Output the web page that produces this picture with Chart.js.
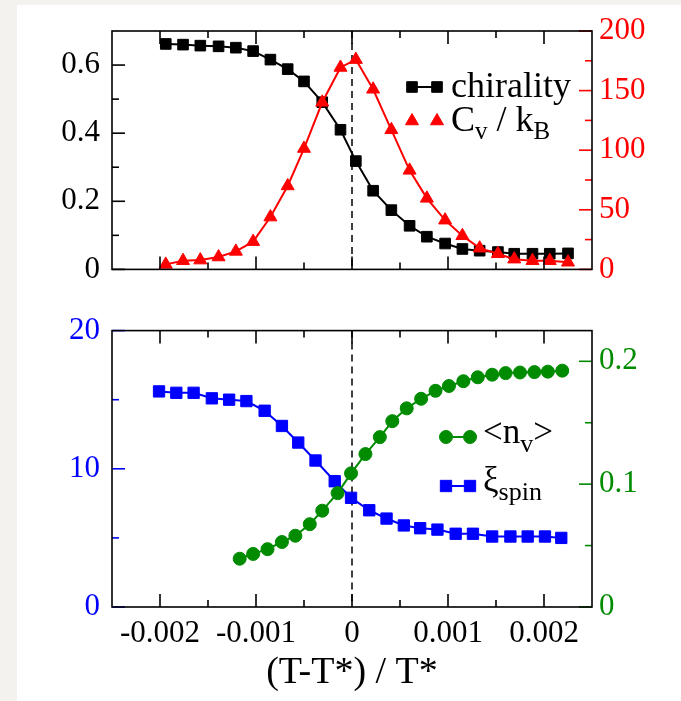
<!DOCTYPE html>
<html>
<head>
<meta charset="utf-8">
<script src="https://cdn.jsdelivr.net/npm/chart.js@4.4.1/dist/chart.umd.min.js"></script>
<style>
  html, body { margin: 0; padding: 0; background: #f3f2ee; }
  #page { position: relative; width: 681px; height: 701px; overflow: hidden; }
  #paper { position: absolute; left: 17px; top: 5px; right: 0; bottom: 0; background: #fff; }
  canvas { position: absolute; left: 0; }
  #top { top: 0; }
  #bottom { top: 300px; }
</style>
</head>
<body>
<div id="page">
  <div id="paper"></div>
  <canvas id="top" width="681" height="300"></canvas>
  <canvas id="bottom" width="681" height="401"></canvas>
</div>
<script>
// ---------------------------------------------
// data
// ---------------------------------------------
const topT = [-0.00194, -0.00176, -0.00158, -0.00139, -0.00121, -0.00103, -0.00085, -0.00067,
    -0.00050, -0.00031, -0.00012, 0.00004, 0.00022, 0.00041, 0.00060, 0.00078,
    0.00097, 0.00115, 0.00133, 0.00152, 0.00169, 0.00188, 0.00206, 0.00225];
const chirality = [0.662, 0.660, 0.657, 0.655, 0.651, 0.641, 0.616, 0.588, 0.552, 0.491, 0.410, 0.318,
    0.231, 0.174, 0.128, 0.096, 0.076, 0.060, 0.055, 0.051, 0.046, 0.046, 0.046, 0.047];
const cvOverKb = [4.2, 7.3, 7.8, 10.4, 15.1, 23.3, 43.9, 70, 101.4, 140.2, 169.4, 176,
    151.1, 117.1, 83.1, 59.6, 41.3, 28.2, 17.8, 13.1, 8.6, 7.3, 7.3, 6];

const xiT = [-0.00201, -0.00183, -0.00165, -0.00146, -0.00128, -0.00110, -0.00091, -0.00073,
    -0.00056, -0.00038, -0.00018, -0.00001, 0.00018, 0.00036, 0.00054, 0.00071,
    0.00089, 0.00108, 0.00126, 0.00146, 0.00165, 0.00183, 0.00201, 0.00218];
const xiSpin = [15.6, 15.5, 15.5, 15.1, 15.0, 14.9, 14.2, 13.1, 11.9, 10.6, 9.1, 7.9,
    7.0, 6.4, 5.9, 5.7, 5.6, 5.3, 5.3, 5.1, 5.1, 5.1, 5.1, 5.0];

const nvT = [-0.00117, -0.00103, -0.00088, -0.00073, -0.00059, -0.00044, -0.00031, -0.00015,
    -0.00001, 0.00014, 0.00029, 0.00042, 0.00057, 0.00072, 0.00087, 0.00101,
    0.00116, 0.00131, 0.00146, 0.00160, 0.00175, 0.00190, 0.00204, 0.00219];
const nv = [0.0393, 0.0432, 0.0471, 0.0529, 0.0580, 0.0674, 0.0784, 0.0927, 0.1088, 0.1245, 0.1383, 0.1513,
    0.1617, 0.1695, 0.1760, 0.1799, 0.1838, 0.1870, 0.1891, 0.1904, 0.1909, 0.1912, 0.1916, 0.1924];

// tick values
const xTicks = [-0.002, -0.001, 0, 0.001, 0.002];
const xMinor = [-0.0015, -0.0005, 0.0005, 0.0015];
const chiralityTicks = [0, 0.2, 0.4, 0.6];
const chiralityMinor = [0.1, 0.3, 0.5];
const cvTicks = [0, 50, 100, 150, 200];
const cvMinor = [25, 75, 125, 175];
const xiTicks = [0, 10, 20];
const xiMinor = [5, 15];
const nvTicks = [0, 0.1, 0.2];
const nvMinor = [0.05, 0.15];

const FONT = "'Liberation Serif', 'Times New Roman', serif";
const colors = { black: '#000000', red: '#ff0000', blue: '#0000ff', green: '#008b00' };

const pts = (xs, ys) => xs.map((x, i) => ({ x: x, y: ys[i] }));

// ---------------------------------------------
// frame, inward ticks, dashed T* line
// ---------------------------------------------
const frameTicks = {
    id: 'frameTicks',
    beforeDatasetsDraw(chart) {
        const { ctx, chartArea: a, scales } = chart;
        const px = scales.x.getPixelForValue(0);
        ctx.save();
        ctx.strokeStyle = '#000';
        ctx.lineWidth = 1.5;
        ctx.setLineDash([7, 5]);
        ctx.beginPath();
        ctx.moveTo(px, a.top);
        ctx.lineTo(px, a.bottom);
        ctx.stroke();
        ctx.restore();
    },
    afterDraw(chart, args, o) {
        const { ctx, chartArea: a, scales } = chart;
        const MAJ = 13, MIN = 7;
        ctx.save();
        ctx.lineWidth = 1.6;
        const line = (x1, y1, x2, y2) => {
            ctx.beginPath(); ctx.moveTo(x1, y1); ctx.lineTo(x2, y2); ctx.stroke();
        };
        // x ticks, bottom and top
        ctx.strokeStyle = '#000';
        [[xTicks, MAJ], [xMinor, MIN]].forEach(([vals, len]) => {
            vals.forEach(v => {
                const p = scales.x.getPixelForValue(v);
                line(p, a.bottom, p, a.bottom - len);
                line(p, a.top, p, a.top + len);
            });
        });
        // left axis
        ctx.strokeStyle = o.leftColor;
        [[o.leftMajor, MAJ], [o.leftMinor, MIN]].forEach(([vals, len]) => {
            vals.forEach(v => {
                const p = scales.y.getPixelForValue(v);
                line(a.left, p, a.left + len, p);
            });
        });
        // right axis
        ctx.strokeStyle = o.rightColor;
        [[o.rightMajor, MAJ], [o.rightMinor, MIN]].forEach(([vals, len]) => {
            vals.forEach(v => {
                const p = scales.yR.getPixelForValue(v);
                line(a.right, p, a.right - len, p);
            });
        });
        // frame
        ctx.strokeStyle = '#000';
        ctx.strokeRect(a.left, a.top, a.right - a.left, a.bottom - a.top);
        ctx.restore();
    }
};

// ---------------------------------------------
// legend with subscripts
// ---------------------------------------------
function drawMarker(ctx, ds, x, y) {
    const opts = { pointStyle: ds.pointStyle, radius: ds.pointRadius, rotation: 0, borderWidth: 1 };
    ctx.fillStyle = ds.pointBackgroundColor;
    ctx.strokeStyle = ds.pointBorderColor;
    ctx.lineWidth = 1;
    Chart.helpers.drawPoint(ctx, opts, x, y);
}

const subLegend = {
    id: 'subLegend',
    afterDraw(chart, args, o) {
        const ctx = chart.ctx;
        ctx.save();
        o.items.forEach(it => {
            const ds = chart.data.datasets[it.ds];
            if (it.line) {
                ctx.strokeStyle = ds.borderColor;
                ctx.lineWidth = ds.borderWidth;
                ctx.beginPath(); ctx.moveTo(it.x1, it.y); ctx.lineTo(it.x2, it.y); ctx.stroke();
            }
            drawMarker(ctx, ds, it.x1, it.y);
            drawMarker(ctx, ds, it.x2, it.y);
            let x = it.tx;
            ctx.fillStyle = '#000';
            ctx.textBaseline = 'alphabetic';
            ctx.textAlign = 'left';
            it.parts.forEach(([txt, sub]) => {
                ctx.font = (sub ? o.subSize : o.size) + 'px ' + FONT;
                ctx.fillText(txt, x, it.ty + (sub ? o.subShift : 0));
                x += ctx.measureText(txt).width;
            });
        });
        ctx.restore();
    }
};

// ---------------------------------------------
// shared axis helpers
// ---------------------------------------------
const fmt = v => String(v);
const yAxis = (pos, min, max, tickVals, color, width) => ({
    type: 'linear',
    position: pos,
    min: min,
    max: max,
    grid: { display: false, drawTicks: false },
    border: { display: false },
    afterBuildTicks: s => { s.ticks = tickVals.map(v => ({ value: v })); },
    afterFit: s => { s.width = width; },
    ticks: {
        color: color,
        padding: pos === 'left' ? 12 : 7,
        font: { family: FONT, size: 31 },
        callback: fmt
    }
});

const baseDs = (label, data, color, style, radius, axis, order) => ({
    label: label,
    data: data,
    yAxisID: axis,
    borderColor: color,
    backgroundColor: color,
    borderWidth: 2,
    pointStyle: style,
    pointRadius: radius,
    pointBackgroundColor: color,
    pointBorderColor: color,
    pointBorderWidth: 1,
    showLine: true,
    tension: 0,
    order: order
});

// ---------------------------------------------
// top panel: chirality and C_v / k_B
// ---------------------------------------------
new Chart(document.getElementById('top'), {
    type: 'line',
    data: {
        datasets: [
            baseDs('chirality', pts(topT, chirality), colors.black, 'rect', 7.5, 'y', 1),
            baseDs('Cv / kB', pts(topT, cvOverKb), colors.red, 'triangle', 7.5, 'yR', 0)
        ]
    },
    options: {
        responsive: false,
        animation: false,
        devicePixelRatio: 1,
        layout: { padding: { top: 31, bottom: 14, left: 0, right: 0 } },
        scales: {
            x: { type: 'linear', min: -0.0025, max: 0.0025, display: false },
            y: yAxis('left', 0, 0.7, chiralityTicks, colors.black, 112),
            yR: yAxis('right', 0, 200, cvTicks, colors.red, 89)
        },
        plugins: {
            legend: { display: false },
            tooltip: { enabled: false },
            frameTicks: {
                leftMajor: chiralityTicks, leftMinor: chiralityMinor, leftColor: colors.black,
                rightMajor: cvTicks, rightMinor: cvMinor, rightColor: colors.red
            },
            subLegend: {
                size: 36, subSize: 25, subShift: 8,
                items: [
                    { ds: 0, line: true, x1: 412, x2: 437, y: 87, tx: 451, ty: 97, parts: [['chirality', 0]] },
                    { ds: 1, line: false, x1: 412, x2: 437, y: 121, tx: 451, ty: 131,
                        parts: [['C', 0], ['v', 1], [' / k', 0], ['B', 1]] }
                ]
            }
        }
    },
    plugins: [frameTicks, subLegend]
});

// ---------------------------------------------
// bottom panel: <n_v> and xi_spin
// ---------------------------------------------
new Chart(document.getElementById('bottom'), {
    type: 'line',
    data: {
        datasets: [
            baseDs('<nv>', pts(nvT, nv), colors.green, 'circle', 6.5, 'yR', 0),
            baseDs('xi spin', pts(xiT, xiSpin), colors.blue, 'rect', 8, 'y', 1)
        ]
    },
    options: {
        responsive: false,
        animation: false,
        devicePixelRatio: 1,
        layout: { padding: { top: 19, bottom: 0, left: 0, right: 0 } },
        scales: {
            x: {
                type: 'linear',
                min: -0.0025,
                max: 0.0025,
                grid: { display: false, drawTicks: false },
                border: { display: false },
                afterBuildTicks: s => { s.ticks = xTicks.map(v => ({ value: v })); },
                afterFit: s => { s.height = 94; },
                ticks: {
                    color: '#000',
                    padding: 8,
                    maxRotation: 0,
                    font: { family: FONT, size: 31 },
                    callback: fmt
                },
                title: {
                    display: true,
                    text: '(T-T*) / T*',
                    color: '#000',
                    font: { family: FONT, size: 38 },
                    padding: { top: 0, bottom: 5 }
                }
            },
            y: yAxis('left', 0, 20, xiTicks, colors.blue, 112),
            yR: yAxis('right', 0, 0.225, nvTicks, colors.green, 89)
        },
        plugins: {
            legend: { display: false },
            tooltip: { enabled: false },
            frameTicks: {
                leftMajor: xiTicks, leftMinor: xiMinor, leftColor: colors.blue,
                rightMajor: nvTicks, rightMinor: nvMinor, rightColor: colors.green
            },
            subLegend: {
                size: 35, subSize: 26, subShift: 9,
                items: [
                    { ds: 0, line: true, x1: 446, x2: 470, y: 137, tx: 483, ty: 143,
                        parts: [['<n', 0], ['v', 1], ['>', 0]] },
                    { ds: 1, line: true, x1: 446, x2: 470, y: 186, tx: 483, ty: 191,
                        parts: [['\u03be', 0], ['spin', 1]] }
                ]
            }
        }
    },
    plugins: [frameTicks, subLegend]
});
</script>
</body>
</html>
